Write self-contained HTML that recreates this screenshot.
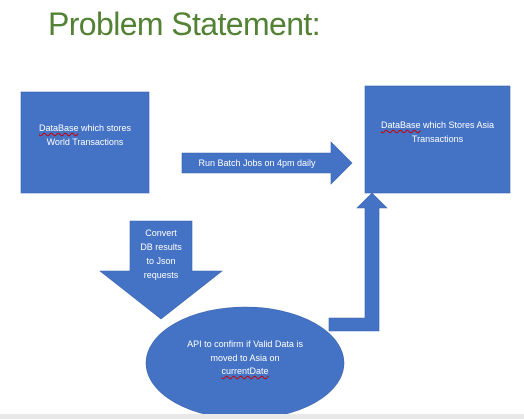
<!DOCTYPE html>
<html><head><style>
body{margin:0;width:524px;height:419px;background:#fff;overflow:hidden;position:relative;font-family:"Liberation Sans",sans-serif}
.t{position:absolute;color:#fff;font-size:9px;text-align:center;line-height:13.5px}
u{text-decoration:underline wavy #c00;text-decoration-thickness:1px}
</style></head><body>
<div style="position:absolute;left:48px;top:6px;font-size:32px;letter-spacing:-0.6px;color:#548235">Problem Statement:</div>
<svg width="524" height="419" style="position:absolute;left:0;top:0">
<g fill="#4472c4" stroke="#3a63ad" stroke-width="0.6">
<rect x="21" y="92" width="128" height="101"/>
<rect x="365" y="86" width="145" height="107"/>
<polygon points="182,153 331,153 331,142 352,163 331,184 331,173 182,173"/>
<polygon points="130,221 192,221 192,271 222,271 161,319 100,271 130,271"/>
<ellipse cx="245" cy="363" rx="99" ry="56"/>
<polygon points="329,318 365,318 365,208 357,208 372,193 387,208 379,208 379,331 329,331"/>
</g>
<rect x="0" y="414" width="524" height="5" fill="#e8e8e8"/>
</svg>
<div class="t" style="left:21px;top:122px;width:128px"><u>DataBase</u> which stores<br>World Transactions</div>
<div class="t" style="left:365px;top:119px;width:145px"><u>DataBase</u> which Stores Asia<br>Transactions</div>
<div class="t" style="left:182px;top:157px;width:150px">Run Batch Jobs on 4pm daily</div>
<div class="t" style="left:125px;top:226px;width:72px;line-height:14px">Convert<br>DB results<br>to Json<br>requests</div>
<div class="t" style="left:160px;top:338px;width:170px">API to confirm if Valid Data is<br>moved to Asia on<br><u>currentDate</u></div>
</body></html>
